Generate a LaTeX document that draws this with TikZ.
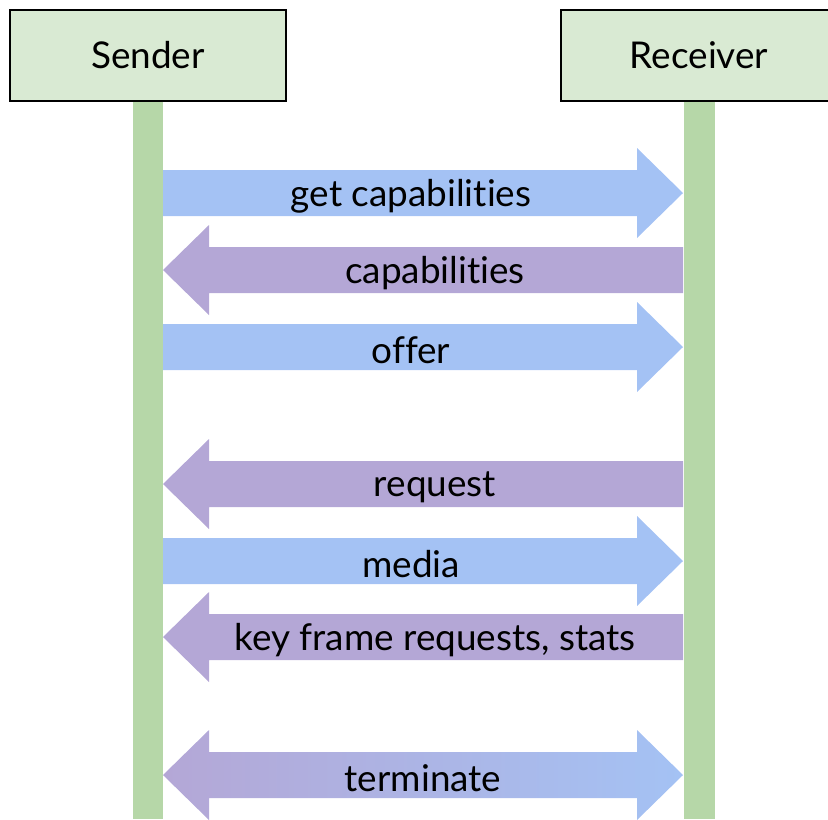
\documentclass[tikz,border=0pt]{standalone}
\usepackage{fontspec}
\setmainfont[Ligatures=NoCommon]{Lato}
\usepackage{tikz}

\definecolor{headgreen}{HTML}{D9EAD3}
\definecolor{lifegreen}{HTML}{B6D7A8}
\definecolor{sendblue}{HTML}{A4C2F4}
\definecolor{backpurple}{HTML}{B4A7D6}

% fat arrows between the two lifelines, #1 = y of the arrow axis
\newcommand{\torecv}[1]{%
    (163,#1-23) -- (637,#1-23) -- (637,#1-45) -- (683,#1) --
    (637,#1+45) -- (637,#1+23) -- (163,#1+23) -- cycle}
\newcommand{\tosend}[1]{%
    (683,#1-23) -- (209,#1-23) -- (209,#1-45) -- (163,#1) --
    (209,#1+45) -- (209,#1+23) -- (683,#1+23) -- cycle}
\newcommand{\toboth}[1]{%
    (209,#1-23) -- (637,#1-23) -- (637,#1-45) -- (683,#1) --
    (637,#1+45) -- (637,#1+23) -- (209,#1+23) -- (209,#1+45) --
    (163,#1) -- (209,#1-45) -- cycle}

\tikzset{
    party/.style={draw=black, line width=1.1pt, fill=headgreen,
        minimum width=5.52cm, minimum height=1.82cm, inner sep=0pt},
    lifeline/.style={draw=lifegreen, line width=0.62cm},
    msg/.style={inner sep=0pt, yshift=-0.07cm}
}

\begin{document}
\begin{tikzpicture}[x=0.02cm, y=-0.02cm, font=\fontsize{21}{25}\selectfont]
        \useasboundingbox (0,0) rectangle (828,819);
        \clip (0,0) rectangle (828,819);

        \node[party] (sender) at (148,55.5) {Sender};
        \node[party] (receiver) at (699,55.5) {Receiver};

        \coordinate (sendend) at (148,819);
        \coordinate (recvend) at (699,819);
        \draw[lifeline] (sender.south) -- (sendend);
        \draw[lifeline] (receiver.south) -- (recvend);

        \fill[sendblue] \torecv{193};
        \node[msg] (getcaps) at (411,193) {get capabilities};
        \fill[backpurple] \tosend{270};
        \node[msg] (caps) at (435,270) {capabilities};
        \fill[sendblue] \torecv{347};
        \node[msg] (offer) at (411,347) {offer};

        \fill[backpurple] \tosend{484};
        \node[msg] (request) at (435,484) {request};
        \fill[sendblue] \torecv{561};
        \node[msg] (media) at (411,561) {media};
        \fill[backpurple] \tosend{637};
        \node[msg] (feedback) at (435,637) {key frame requests, stats};

        \shade[left color=backpurple, right color=sendblue,
            middle color=backpurple!50!sendblue] \toboth{775};
        \node[msg] (terminate) at (423,775) {terminate};
\end{tikzpicture}
\end{document}
